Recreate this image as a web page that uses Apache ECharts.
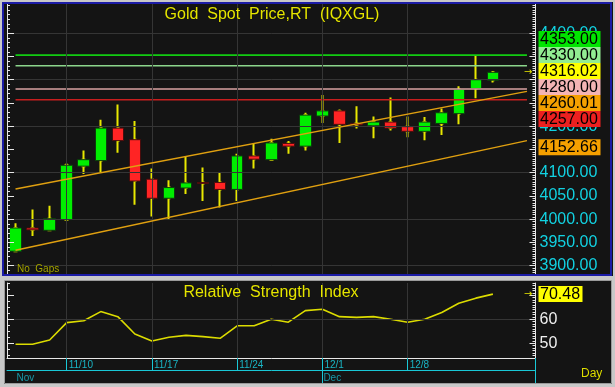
<!DOCTYPE html>
<html><head><meta charset="utf-8">
<script src="https://cdn.jsdelivr.net/npm/echarts@6/dist/echarts.min.js"></script>
<style>html,body{margin:0;padding:0;background:#c8c8c8;}#c{width:615px;height:387px;}</style>
</head><body><div id="c"></div>
<script>
// ---------- data ----------
const categories = ['11/5','11/6','11/7','11/10','11/11','11/12','11/13','11/14','11/17','11/18','11/19','11/20','11/21',
  '11/24','11/25','11/26','11/27','11/28','12/1','12/2','12/3','12/4','12/5','12/8','12/9','12/10','12/11','12/12','12/15','12/16','12/17'];
const opens  = [3931,3981,3976,3999,4114,4126,4196,4171,4086,4045,4067,4079,4079,4064,4136,4128,4163,4157,4222,4233,4206,4201,4209,4199,4189,4206,4227,4281,4299];
const closes = [3981,3977,4001,4116,4128,4196,4169,4082,4045,4068,4078,4077,4064,4136,4129,4164,4157,4224,4233,4204,4203,4209,4196,4189,4209,4229,4279,4300,4316.02];
const lows   = [3929,3964,3974,3998,4097,4100,4143,4031,4006,3998,4054,4039,4025,4039,4109,4127,4141,4148,4207,4164,4195,4174,4191,4176,4170,4181,4204,4260,4294];
const highs  = [3991,4021,4029,4120,4148,4214,4247,4211,4109,4084,4136,4111,4101,4141,4163,4173,4168,4229,4267,4236,4243,4221,4262,4221,4220,4238,4286,4353,4319];
const rsiValues = [49.6,49.6,51.4,58.6,59.4,63.2,61.1,53.9,51.0,52.5,53.3,52.8,52.1,57.3,57.3,60.0,58.8,63.6,64.2,61.1,60.8,61.1,60.0,58.8,60.0,62.8,66.7,68.8,70.48];
const levelValues = [4353, 4330, 4280, 4257];
const channelUpper = [[0, 4065], [30, 4275]];
const channelLower = [[0, 3933], [30, 4169]];
const tagValues = [4353.00, 4330.00, 4316.02, 4280.00, 4260.01, 4257.00, 4152.66];
const rsiLast = 70.48;
const priceTickLabels = [3900,3950,4000,4050,4100,4150,4200,4250,4300,4350,4400];
const priceGridValues = [3900,4000,4100,4200,4300,4400];
const rsiTickLabels = [50, 60];
const rsiGridValues = [60];
const dateTickLabels = ['11/10','11/17','11/24','12/1','12/8'];
const monthLabels = [['11/5','Nov'], ['12/1','Dec']];

// ---------- styles ----------
const FONT = '"Liberation Sans", Arial, sans-serif';
const levelColors = ['#12cc12', '#8cd68c', '#d8a2a2', '#c81e1e'];
const tagColors = ['#00e400', '#92ec92', '#ffff00', '#f4b4b4', '#f5a000', '#ec2020', '#f5a000'];
const CYAN = '#19c8d6';
const WHITE = '#e8e8e8';
const GRIDC = '#353535';

function steps(a, b, s) { const r = []; for (let v = a; v <= b + 1e-9; v += s) r.push(+v.toFixed(3)); return r; }
const priceMin = 3882, priceMax = 4463;
const rsiMin = 43.9, rsiMax = 75.1;
const monthNames = Object.fromEntries(monthLabels);
const monthStarts = monthLabels.slice(1).map(m => m[0]);

function tickAxis(grid, pos, min, max, ticks, len, line, labels) {
  return {
    gridIndex: grid, type: 'value', position: pos, min: min, max: max, z: 6,
    axisLine: { show: !!line, onZero: false, lineStyle: { color: WHITE, width: 1 } },
    axisTick: { show: true, inside: true, length: len, customValues: ticks, lineStyle: { color: WHITE, width: 1 } },
    axisLabel: labels ? labels : { show: false },
    splitLine: { show: false }
  };
}

const chart = echarts.init(document.getElementById('c'), null, { renderer: 'canvas', width: 615, height: 387 });

const wickData = opens.map((o, i) => [o, closes[i], lows[i], highs[i]]);
const bodyData = opens.map((o, i) => [o, closes[i], Math.min(o, closes[i]), Math.max(o, closes[i])]);

const gridMarkLine = (xs, ys) => ({
  silent: true, symbol: 'none', label: { show: false }, animation: false,
  lineStyle: { color: GRIDC, width: 1, type: 'solid' },
  emphasis: { disabled: true },
  data: xs.map(d => ({ xAxis: d })).concat(ys.map(v => ({ yAxis: v })))
});

const series = [
  { type: 'line', xAxisIndex: 0, yAxisIndex: 0, data: [[0, priceGridValues[0]]], symbol: 'none', showSymbol: false, silent: true, z: 1,
    lineStyle: { width: 0 }, markLine: gridMarkLine(dateTickLabels, priceGridValues) },
  { type: 'line', xAxisIndex: 1, yAxisIndex: 4, data: [[0, rsiGridValues[0]]], symbol: 'none', showSymbol: false, silent: true, z: 1,
    lineStyle: { width: 0 }, markLine: gridMarkLine(dateTickLabels, rsiGridValues) },
  { type: 'candlestick', xAxisIndex: 0, yAxisIndex: 0, data: wickData, barWidth: 2, z: 2,
    itemStyle: { color: '#e8e800', color0: '#e8e800', borderColor: '#e8e800', borderColor0: '#e8e800', borderWidth: 2 } },
  { type: 'candlestick', xAxisIndex: 0, yAxisIndex: 0, data: bodyData, barWidth: 12, z: 3,
    itemStyle: { color: '#00ee00', color0: '#ff2424', borderColor: '#0c3c0c', borderColor0: '#4a0c0c', borderWidth: 1 } }
];
levelValues.forEach((v, k) => series.push({
  type: 'line', xAxisIndex: 0, yAxisIndex: 0, data: [[0, v], [30, v]], symbol: 'none', silent: true, z: 4,
  lineStyle: { color: levelColors[k], width: 1.6 }
}));
[channelUpper, channelLower].forEach(d => series.push({
  type: 'line', xAxisIndex: 0, yAxisIndex: 0, data: d, symbol: 'none', silent: true, z: 5,
  lineStyle: { color: '#e0a010', width: 1.5 }
}));
series.push({
  type: 'line', xAxisIndex: 1, yAxisIndex: 4, data: rsiValues, symbol: 'none', silent: true, z: 3,
  lineStyle: { color: '#dcdc00', width: 1.6 }
});

const option = {
  animation: false,
  backgroundColor: '#141414',
  grid: [
    { left: 7, top: 4, width: 528.5, height: 270, outerBoundsMode: 'none', containLabel: false },
    { left: 7, top: 283, width: 528.5, height: 75, outerBoundsMode: 'none', containLabel: false }
  ],
  xAxis: [
    { gridIndex: 0, type: 'category', data: categories, boundaryGap: true,
      axisLine: { show: false }, axisTick: { show: false }, axisLabel: { show: false }, splitLine: { show: false } },
    { gridIndex: 1, type: 'category', data: categories, boundaryGap: true, position: 'bottom', z: 6,
      axisLine: { show: true, onZero: false, lineStyle: { color: WHITE, width: 1 } },
      axisTick: { show: true, alignWithLabel: true, interval: (i, v) => dateTickLabels.includes(v), length: 12, lineStyle: { color: CYAN } },
      axisLabel: { show: true, interval: (i, v) => dateTickLabels.includes(v), color: '#1ab4c4', fontSize: 10, fontFamily: FONT,
        align: 'left', padding: [0, 0, 0, 2], margin: 2 },
      splitLine: { show: false } },
    { gridIndex: 1, type: 'category', data: categories, boundaryGap: true, position: 'bottom', offset: 12, z: 6,
      axisLine: { show: true, onZero: false, lineStyle: { color: CYAN, width: 1 } },
      axisTick: { show: true, alignWithLabel: true, interval: (i, v) => monthStarts.includes(v), length: 15, lineStyle: { color: CYAN } },
      axisLabel: { show: true, interval: (i, v) => monthNames[v] !== undefined, formatter: v => monthNames[v] || '',
        color: '#1898a8', fontSize: 10, fontFamily: FONT, align: 'left', padding: [0, 0, 0, 1], margin: 3 },
      splitLine: { show: false } }
  ],
  yAxis: [
    tickAxis(0, 'right', priceMin, priceMax, steps(3885, 4460, 5), 3, true,
      { show: true, customValues: priceTickLabels, formatter: v => Number(v).toFixed(2), color: '#12d2e2', fontSize: 16, fontFamily: FONT, margin: 4 }),
    tickAxis(0, 'right', priceMin, priceMax, priceTickLabels, 6, false),
    tickAxis(0, 'left', priceMin, priceMax, steps(3890, 4460, 10), 3, true),
    tickAxis(0, 'left', priceMin, priceMax, priceTickLabels, 7, false),
    tickAxis(1, 'right', rsiMin, rsiMax, steps(44, 75, 1), 3, true,
      { show: true, customValues: rsiTickLabels, color: '#f0f0f0', fontSize: 16, fontFamily: FONT, margin: 4 }),
    tickAxis(1, 'right', rsiMin, rsiMax, [50, 60, 70], 6, false),
    tickAxis(1, 'left', rsiMin, rsiMax, steps(45, 75, 2.5), 3, true),
    tickAxis(1, 'left', rsiMin, rsiMax, [50, 60, 70], 7, false)
  ],
  series: series
};
chart.setOption(option);

// ---------- overlay graphics (frames, titles, value tags) ----------
const g = [];
// window chrome: grey outer border, blue main-panel border, grey gap, grey RSI border
g.push({ type: 'rect', z: 40, shape: { x: 1, y: 1, width: 613, height: 385 }, style: { fill: null, stroke: '#c8c8c8', lineWidth: 2 } });
g.push({ type: 'rect', z: 40, shape: { x: 0, y: 276, width: 615, height: 5 }, style: { fill: '#c8c8c8' } });
g.push({ type: 'rect', z: 40, shape: { x: 0, y: 384, width: 615, height: 3 }, style: { fill: '#c8c8c8' } });
g.push({ type: 'rect', z: 40, shape: { x: 0, y: 281, width: 4, height: 104 }, style: { fill: '#c8c8c8' } });
g.push({ type: 'rect', z: 40, shape: { x: 612, y: 281, width: 3, height: 104 }, style: { fill: '#c8c8c8' } });
g.push({ type: 'rect', z: 41, shape: { x: 3, y: 3, width: 608, height: 272 }, style: { fill: null, stroke: '#1c1ca6', lineWidth: 2 } });
g.push({ type: 'rect', z: 41, shape: { x: 4.5, y: 280.5, width: 607, height: 103 }, style: { fill: null, stroke: '#9a9a9a', lineWidth: 1 } });
g.push({ type: 'line', z: 10, shape: { x1: 535.5, y1: 358, x2: 535.5, y2: 384 }, style: { stroke: CYAN, lineWidth: 1 } });

const txt = (text, x, y, size, color, align) => ({ type: 'text', z: 60, style: {
  text: text, x: x, y: y, fontSize: size, fontFamily: FONT, fill: color, align: align || 'left', verticalAlign: 'middle',
  textShadowColor: 'rgba(0,0,0,0.9)', textShadowBlur: 1 } });
g.push(txt('Gold  Spot  Price,RT  (IQXGL)', 272, 15, 16, '#e6e600', 'center'));
g.push(txt('Relative  Strength  Index', 271, 293, 16, '#e6e600', 'center'));
g.push(txt('No  Gaps', 17, 269, 10, '#a8a800'));
g.push(txt('Day', 581, 374, 12, '#dede00'));

// price tags, spread to avoid overlap (clusters centred on their mean)
const H = 16;
const items = tagValues.map((v, k) => ({ v: v, c: tagColors[k], y: chart.convertToPixel({ gridIndex: 0 }, [0, v])[1] }));
items.sort((a, b) => a.y - b.y);
let clusters = items.map(it => ({ m: [it], center: it.y }));
let changed = true;
while (changed) {
  changed = false;
  for (let i = 0; i < clusters.length - 1; i++) {
    const a = clusters[i], b = clusters[i + 1];
    if (a.center + a.m.length * H / 2 > b.center - b.m.length * H / 2) {
      const m = a.m.concat(b.m);
      clusters.splice(i, 2, { m: m, center: m.reduce((s, t) => s + t.y, 0) / m.length });
      changed = true; break;
    }
  }
}
clusters.forEach(cl => {
  const top = cl.center - cl.m.length * H / 2 - 1;
  cl.m.forEach((it, k) => {
    const y0 = top + k * H;
    g.push({ type: 'rect', z: 50, shape: { x: 538.5, y: y0, width: 62, height: H }, style: { fill: it.c } });
    g.push({ type: 'text', z: 51, style: { text: it.v.toFixed(2), x: 540, y: y0 + H / 2 + 0.5, fontSize: 16, fontFamily: FONT, fill: '#000', verticalAlign: 'middle' } });
  });
});
const lastY = chart.convertToPixel({ gridIndex: 0 }, [0, closes[closes.length - 1]])[1];
g.push({ type: 'text', z: 51, style: { text: '→', x: 524, y: lastY, fontSize: 10, fontFamily: 'DejaVu Sans', fill: '#e6e600', verticalAlign: 'middle' } });

const rsiY = chart.convertToPixel({ gridIndex: 1 }, [0, rsiLast])[1];
g.push({ type: 'rect', z: 50, shape: { x: 538.5, y: rsiY - H / 2, width: 44, height: H }, style: { fill: '#ffff00' } });
g.push({ type: 'text', z: 51, style: { text: rsiLast.toFixed(2), x: 540, y: rsiY + 0.5, fontSize: 16, fontFamily: FONT, fill: '#000', verticalAlign: 'middle' } });
g.push({ type: 'text', z: 51, style: { text: '→', x: 524, y: rsiY, fontSize: 10, fontFamily: 'DejaVu Sans', fill: '#e6e600', verticalAlign: 'middle' } });

chart.setOption({ graphic: g });
</script>
</body></html>
